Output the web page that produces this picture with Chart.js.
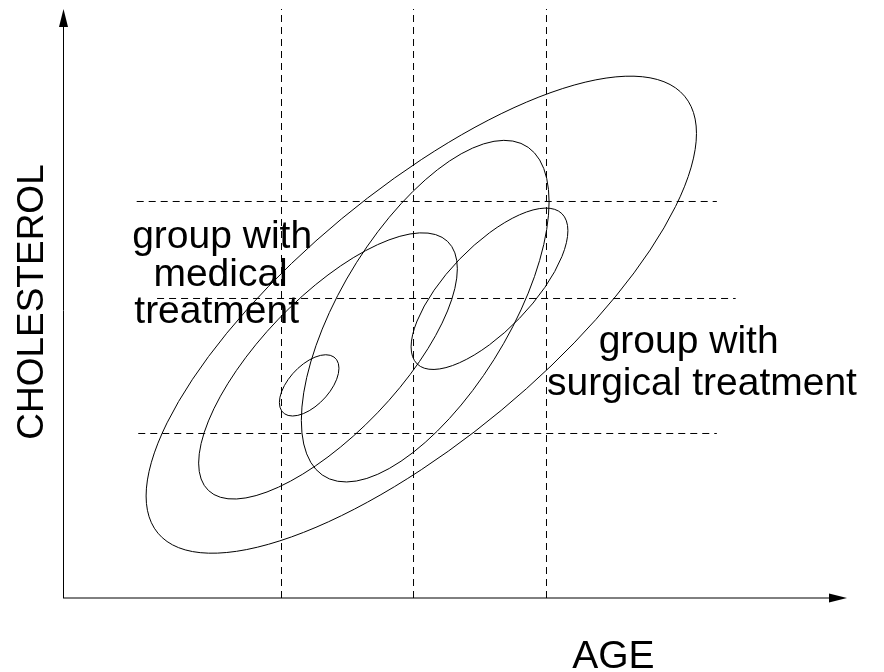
<!DOCTYPE html>
<html>
<head>
<meta charset="utf-8">
<script src="https://cdn.jsdelivr.net/npm/chart.js@4/dist/chart.umd.min.js"></script>
<style>
html,body{margin:0;padding:0;background:#fff;}
</style>
</head>
<body>
<canvas id="chart" width="884" height="672"></canvas>
<script>
// age and cholesterol in arbitrary units (0-100), no ticks in the figure
const ageCuts = [27.87, 44.71, 61.67];
const cholCuts = [67.32, 50.85, 27.93];
const cholCutFrom = [9.4, 12.0, 9.6];
const cholCutTo = [83.4, 85.8, 83.4];

// one ellipse per group: mean, spread and correlation
const groups = ["all patients", "medical", "medical core", "surgical", "surgical core"];
const meanAge = [45.7, 33.8, 31.4, 46.2, 54.4];
const meanChol = [48.1, 39.4, 36.1, 48.7, 52.5];
const spreadAge = [35.1, 16.5, 3.8, 15.8, 10.0];
const spreadChol = [40.5, 22.6, 5.2, 29.0, 13.7];
const corr = [0.76, 0.73, 0.56, 0.64, 0.72];

const medicalLabel = ["group with", "medical", "treatment"];
const surgicalLabel = ["group with", "surgical treatment"];
const xTitle = "AGE";
const yTitle = "CHOLESTEROL";

const FONT = '39px "Liberation Sans", Arial, sans-serif';

const datasets = [];
ageCuts.forEach(a => {
    datasets.push({
        data: [{x: a, y: 0}, {x: a, y: 100}]
    });
});
cholCuts.forEach((c, i) => {
    datasets.push({
        data: [{x: cholCutFrom[i], y: c}, {x: cholCutTo[i], y: c}]
    });
});
datasets.forEach(d => {
    d.showLine = true;
    d.borderColor = "#000";
    d.borderWidth = 1;
    d.borderDash = [7, 5];
    d.pointRadius = 0;
    d.fill = false;
});

const drawing = {
    id: "drawing",
    afterDatasetsDraw(chart){
        const ctx = chart.ctx;
        const x = chart.scales.x, y = chart.scales.y;
        const kx = x.getPixelForValue(1) - x.getPixelForValue(0);
        const ky = y.getPixelForValue(1) - y.getPixelForValue(0);

        ctx.save();
        ctx.strokeStyle = "#000";
        ctx.fillStyle = "#000";
        ctx.lineWidth = 1;

        // ellipses: unit circle mapped by spread and correlation
        meanAge.forEach((m, i) => {
            const W = spreadAge[i] * kx;
            const H = spreadChol[i] * ky;
            const r = corr[i];
            ctx.save();
            ctx.translate(x.getPixelForValue(m), y.getPixelForValue(meanChol[i]));
            ctx.transform(W, r * H, 0, Math.sqrt(1 - r * r) * H, 0, 0);
            ctx.beginPath();
            ctx.arc(0, 0, 1, 0, Math.PI * 2);
            ctx.restore();
            ctx.stroke();
        });

        // axes with arrows
        const x0 = x.getPixelForValue(0), x1 = x.getPixelForValue(100);
        const y0 = y.getPixelForValue(0), y1 = y.getPixelForValue(100);
        ctx.beginPath();
        ctx.moveTo(x0 + 0.5, y0);
        ctx.lineTo(x0 + 0.5, y1 + 14);
        ctx.moveTo(x0, y0);
        ctx.lineTo(x1 - 14, y0);
        ctx.stroke();
        ctx.beginPath();
        ctx.moveTo(x0 + 0.5, y1);
        ctx.lineTo(x0 - 4, y1 + 18);
        ctx.lineTo(x0 + 5, y1 + 18);
        ctx.closePath();
        ctx.fill();
        ctx.beginPath();
        ctx.moveTo(x1, y0);
        ctx.lineTo(x1 - 18, y0 - 4.5);
        ctx.lineTo(x1 - 18, y0 + 4.5);
        ctx.closePath();
        ctx.fill();

        // labels
        ctx.font = FONT;
        ctx.textAlign = "center";
        ctx.textBaseline = "alphabetic";
        const medPos = [[20.3, 59.4], [20.1, 52.9], [19.6, 46.7]];
        medicalLabel.forEach((t, i) => {
            ctx.fillText(t, x.getPixelForValue(medPos[i][0]), y.getPixelForValue(medPos[i][1]));
        });
        const surPos = [[79.8, 41.6], [81.5, 34.5]];
        surgicalLabel.forEach((t, i) => {
            ctx.fillText(t, x.getPixelForValue(surPos[i][0]), y.getPixelForValue(surPos[i][1]));
        });
        ctx.fillText(xTitle, x.getPixelForValue(70.2), y.getPixelForValue(-11.9));

        ctx.save();
        ctx.font = '37px "Liberation Sans", Arial, sans-serif';
        ctx.translate(43, y.getPixelForValue(50.25));
        ctx.rotate(-Math.PI / 2);
        ctx.fillText(yTitle, 0, 0);
        ctx.restore();

        ctx.restore();
    }
};

const chart = new Chart(document.getElementById("chart"), {
    type: "scatter",
    data: {datasets: datasets},
    options: {
        responsive: false,
        animation: false,
        devicePixelRatio: 1,
        layout: {padding: {left: 63, right: 37, top: 9, bottom: 74}},
        plugins: {legend: {display: false}, tooltip: {enabled: false}},
        scales: {
            x: {type: "linear", min: 0, max: 100, display: false},
            y: {type: "linear", min: 0, max: 100, display: false}
        }
    },
    plugins: [drawing]
});
</script>
</body>
</html>
